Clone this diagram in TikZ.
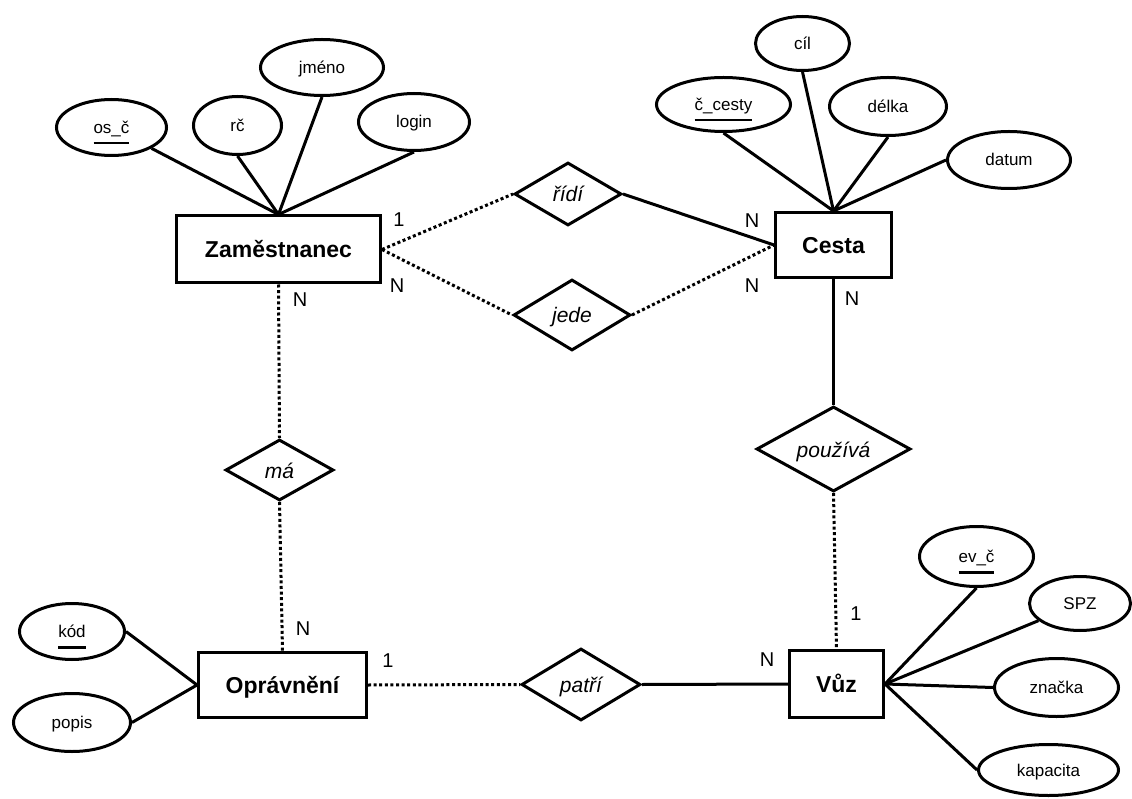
\documentclass[tikz,border=0pt]{standalone}
\usepackage{fontspec}
\setmainfont{Liberation Sans}
\usetikzlibrary{shapes.geometric}

% key attribute: text with a thick bar underneath
\newcommand{\keyattr}[1]{\setbox0=\hbox{#1}\makebox[0pt][l]{\raisebox{-11pt}[0pt][0pt]{\rule{\wd0}{2.7pt}}}\box0}

\tikzset{
  entity/.style={draw, rectangle, line width=3pt, inner sep=0pt,
    font=\fontsize{23}{27}\selectfont\bfseries, text height=17pt, text depth=0pt},
  attr/.style={draw, ellipse, line width=3pt, inner sep=0pt,
    font=\fontsize{17}{20}\selectfont, text height=12pt, text depth=0pt},
  rel/.style={draw, diamond, line width=3pt, inner sep=0pt, aspect=1.6,
    font=\fontsize{21}{25}\selectfont\itshape, text height=16pt, text depth=0pt},
  card/.style={inner sep=0pt, font=\fontsize{20}{24}\selectfont},
  link/.style={line width=3pt},
  optlink/.style={line width=3pt, dash pattern=on 3pt off 2.6pt}
}

\begin{document}
\begin{tikzpicture}[x=1pt, y=-1pt]
\useasboundingbox (0,0) rectangle (1132,799);

% entities
\node[entity, minimum width=204pt, minimum height=67pt] (zam) at (278.5,249.5) {Zaměstnanec};
\node[entity, minimum width=116pt, minimum height=65pt] (ces) at (833.5,245) {Cesta};
\node[entity, minimum width=168pt, minimum height=65pt] (opr) at (282.5,685) {Oprávnění};
\node[entity, minimum width=94pt, minimum height=67pt] (vuz) at (836.5,684) {Vůz};

% attributes of Zaměstnanec
\node[attr, minimum width=110pt, minimum height=56pt] (osc) at (111.5,127.5) {\keyattr{os\_č}};
\node[attr, minimum width=88pt, minimum height=58pt] (rc) at (237.5,125.5) {rč};
\node[attr, minimum width=123pt, minimum height=56pt] (jmeno) at (322,67.5) {jméno};
\node[attr, minimum width=111pt, minimum height=57pt] (login) at (414,122) {login};

% attributes of Cesta
\node[attr, minimum width=134pt, minimum height=54pt] (ccesty) at (723.5,104.5) {\keyattr{č\_cesty}};
\node[attr, minimum width=94pt, minimum height=54pt] (cil) at (802.5,43.5) {cíl};
\node[attr, minimum width=117pt, minimum height=58pt] (delka) at (888,106.5) {délka};
\node[attr, minimum width=123pt, minimum height=57pt] (datum) at (1009,160) {datum};

% attributes of Oprávnění
\node[attr, minimum width=105pt, minimum height=56pt] (kod) at (72,631.5) {\keyattr{kód}};
\node[attr, minimum width=117pt, minimum height=58pt] (popis) at (72,722.5) {popis};

% attributes of Vůz
\node[attr, minimum width=114pt, minimum height=60pt] (evc) at (976.5,556.5) {\keyattr{ev\_č}};
\node[attr, minimum width=101pt, minimum height=54pt] (spz) at (1080,603.5) {SPZ};
\node[attr, minimum width=124pt, minimum height=58pt] (znacka) at (1056.5,687.5) {značka};
\node[attr, minimum width=140pt, minimum height=51pt] (kapacita) at (1048.5,770) {kapacita};

% relationships
\node[rel, minimum width=107pt, minimum height=63pt] (ridi) at (568,194) {řídí};
\node[rel, minimum width=117pt, minimum height=71pt] (jede) at (572,315) {jede};
\node[rel, minimum width=108pt, minimum height=61pt] (ma) at (279.5,470) {má};
\node[rel, minimum width=154pt, minimum height=85pt] (pouziva) at (833.5,449) {používá};
\node[rel, minimum width=119pt, minimum height=72pt] (patri) at (581,684.5) {patří};

% attribute connectors
\draw[link] (osc) -- (zam.north);
\draw[link] (rc.south) -- (zam.north);
\draw[link] (jmeno.south) -- (zam.north);
\draw[link] (login.south) -- (zam.north);

\draw[link] (ccesty.south) -- (ces.north);
\draw[link] (cil.south) -- (ces.north);
\draw[link] (delka.south) -- (ces.north);
\draw[link] (datum.west) -- (ces.north);

\draw[link] (kod.east) -- (opr.west);
\draw[link] (popis.east) -- (opr.west);

\draw[link] (evc.south) -- (vuz.east);
\draw[link] (spz) -- (vuz.east);
\draw[link] (znacka.west) -- (vuz.east);
\draw[link] (kapacita.west) -- (vuz.east);

% relationship connectors
\draw[optlink] (zam.east) -- (ridi.west);
\draw[link] (ridi.east) -- (ces.west);
\draw[optlink] (zam.east) -- (jede.west);
\draw[optlink] (jede.east) -- (ces.west);
\draw[optlink] (zam.south) -- (ma.north);
\draw[optlink] (ma.south) -- (opr.north);
\draw[link] (ces.south) -- (pouziva.north);
\draw[optlink] (pouziva.south) -- (vuz.north);
\draw[optlink] (opr.east) -- (patri.west);
\draw[link] (patri.east) -- (vuz.west);

% cardinalities
\node[card] (c1) at (399,220) {1};
\node[card] (c2) at (397,286) {N};
\node[card] (c3) at (752,221) {N};
\node[card] (c4) at (752,286) {N};
\node[card] (c5) at (300,300) {N};
\node[card] (c6) at (852,299) {N};
\node[card] (c7) at (303,629) {N};
\node[card] (c8) at (388,661) {1};
\node[card] (c9) at (767,660) {N};
\node[card] (c10) at (856,614) {1};
\end{tikzpicture}
\end{document}
